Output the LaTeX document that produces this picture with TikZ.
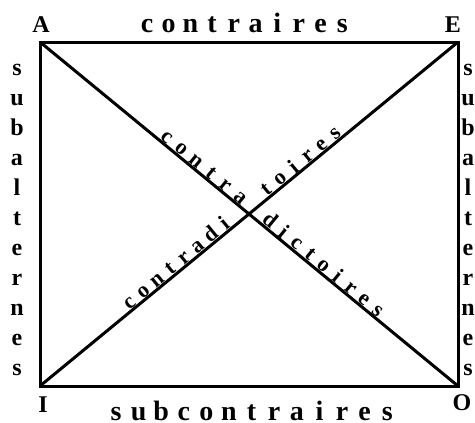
\documentclass[tikz,border=0pt]{standalone}
\usepackage{fontspec}
\setmainfont{Liberation Serif}
\usetikzlibrary{calc}

\begin{document}
\begin{tikzpicture}[x=1pt,y=-1pt,
      edge/.style={line width=3pt},
      corner/.style={font=\fontsize{24}{24}\selectfont\bfseries,inner sep=0pt,anchor=base},
      rel/.style={font=\fontsize{28}{28}\selectfont\bfseries,inner sep=0pt,anchor=base},
      side/.style={font=\fontsize{24}{24}\selectfont\bfseries,inner sep=0pt,anchor=base},
      diag/.style={font=\fontsize{22}{22}\selectfont\bfseries,inner sep=1.2pt,anchor=south,sloped}]
      \useasboundingbox (0,0) rectangle (475,423);
      % corners of the square
      \coordinate (A) at (40,42);
      \coordinate (E) at (458,42);
      \coordinate (I) at (40,386);
      \coordinate (O) at (458,386);
      \draw[edge] (A) -- (E) -- (O) -- (I) -- cycle;
      \draw[edge] (A) -- (O);
      \draw[edge] (I) -- (E);
      \node[corner] (labA) at (41,33) {A};
      \node[corner] (labE) at (453,32) {E};
      \node[corner] (labI) at (43,412) {I};
      \node[corner] (labO) at (462,410) {O};
      % relations
      \foreach \ch [count=\k] in {c,o,n,t,r,a,i,r,e,s}
        \node[rel] (top\k) at ({147+21.7*(\k-1)},32) {\ch};
      \foreach \ch [count=\k] in {s,u,b,c,o,n,t,r,a,i,r,e,s}
        \node[rel] (bot\k) at ({116+22.6*(\k-1)},420) {\ch};
      \foreach \ch [count=\k] in {s,u,b,a,l,t,e,r,n,e,s} {
        \node[side] (left\k) at (17,{75+30*(\k-1)}) {\ch};
        \node[side] (right\k) at (468,{75+30*(\k-1)}) {\ch};
      }
      % contradictoires, along both diagonals
      \foreach \ch [count=\k, evaluate=\k as \p using (158+19*(\k-1))/541] in {c,o,n,t,r,a}
        \path (A) -- (O) node[diag,pos=\p] (ao\k) {\ch};
      \foreach \ch [count=\k, evaluate=\k as \p using (291+17.5*(\k-1))/541] in {d,i,c,t,o,i,r,e,s}
        \path (A) -- (O) node[diag,pos=\p] (oa\k) {\ch};
      \foreach \ch [count=\k, evaluate=\k as \p using (122+17.6*(\k-1))/541] in {c,o,n,t,r,a,d,i}
        \path (I) -- (E) node[diag,pos=\p] (ie\k) {\ch};
      \foreach \ch [count=\k, evaluate=\k as \p using (299+17.8*(\k-1))/541] in {t,o,i,r,e,s}
        \path (I) -- (E) node[diag,pos=\p] (ei\k) {\ch};
\end{tikzpicture}
\end{document}
